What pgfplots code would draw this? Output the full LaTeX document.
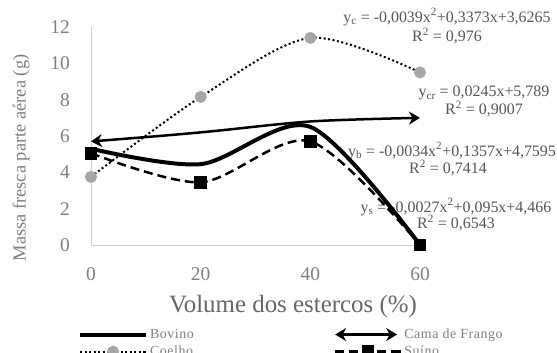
\documentclass[border=0pt]{standalone}
\usepackage{fontspec}
\setmainfont{Liberation Serif}
\newfontfamily\legfont[LetterSpace=4]{Liberation Serif}
\usepackage{pgfplots}
\pgfplotsset{compat=1.18}
\usetikzlibrary{arrows.meta}
\definecolor{tickgray}{HTML}{7F7F7F}
\definecolor{axgray}{HTML}{D0D0D0}
\definecolor{eqgray}{HTML}{555555}
\definecolor{labgray}{HTML}{666666}
\definecolor{mkgray}{HTML}{A6A6A6}
\pgfplotsset{
  legline/.style={legend image code/.code={\draw[##1] (0bp,0bp) -- (66bp,0bp);}},
  legarrow/.style={legend image code/.code={\draw[##1] (0bp,0bp) -- (62bp,0bp);}},
  legmark/.style={legend image code/.code={\draw[mark repeat=2,mark phase=2,##1] plot coordinates {(0bp,0bp) (33bp,0bp) (66bp,0bp)};}},
}
\begin{document}
\begin{tikzpicture}
\useasboundingbox (0,0) rectangle (557bp,353bp);
\begin{scope}[x=1bp,y=-1bp,yshift=353bp,
  eq/.style={font=\fontsize{16}{16}\selectfont, text=eqgray, inner sep=0pt}]
\node[rotate=90, font=\fontsize{18.5}{18.5}\selectfont, text=tickgray] at (21,158) {Massa fresca parte aérea (g)};
\node[font=\fontsize{25}{25}\selectfont, text=labgray] at (293,307) {Volume dos estercos (\%)};
\node[eq] at (447,17) {y\textsubscript{c} = -0,0039x\textsuperscript{2}+0,3373x+3,6265};
\node[eq] at (447,36) {R\textsuperscript{2} = 0,976};
\node[eq] at (484,93) {y\textsubscript{cr} = 0,0245x+5,789};
\node[eq] at (484,109) {R\textsuperscript{2} = 0,9007};
\node[eq] at (452,151) {y\textsubscript{b} = -0,0034x\textsuperscript{2}+0,1357x+4,7595};
\node[eq] at (448,168) {R\textsuperscript{2} = 0,7414};
\node[eq] at (456,207) {y\textsubscript{s} = -0,0027x\textsuperscript{2}+0,095x+4,466};
\node[eq] at (456,223) {R\textsuperscript{2} = 0,6543};
\end{scope}
\begin{axis}[
  at={(91bp,108bp)}, anchor=south west,
  scale only axis, width=329bp, height=218bp,
  xmin=0, xmax=60, ymin=0, ymax=12,
  axis lines=left, axis line style={axgray, line width=1bp, -},
  xtick={0,20,40,60}, ytick={0,2,...,12},
  major tick length=0pt,
  /pgf/number format/assume math mode=true,
  tick label style={font=\fontsize{19.5}{19.5}\selectfont, text=tickgray, inner sep=0pt},
  xticklabel style={anchor=north, yshift=-22bp},
  yticklabel style={anchor=east, xshift=-21bp},
  clip=false,
  legend columns=2,
  legend cell align=left,
  legend style={at={(axis description cs:-0.04,-0.375)}, anchor=north west,
    draw=none, fill=none, font=\legfont\fontsize{14}{14}\selectfont, text=tickgray,
    /tikz/every even column/.append style={column sep=138bp},
    row sep=2bp, inner sep=0pt},
]
\addplot[black, line width=4bp, smooth, tension=0.5, legline]
  coordinates {(0,5.3) (20,4.45) (40,6.5) (60,0)};
\addlegendentry{Bovino}
\addplot[black, line width=2.5bp, smooth, tension=0.5,
  {Stealth[length=11bp,width=13bp]}-{Stealth[length=11bp,width=13bp]}, legarrow]
  coordinates {(0,5.7) (20,6.2) (40,6.8) (60,7.0)};
\addlegendentry{Cama de Frango}
\addplot[black, line width=2bp, dash pattern=on 2bp off 2.5bp, smooth, tension=0.5,
  mark=*, mark size=5bp, mark options={solid, fill=mkgray, draw=mkgray}, legmark]
  coordinates {(0,3.75) (20,8.15) (40,11.4) (60,9.5)};
\addlegendentry{Coelho}
\addplot[black, line width=2.5bp, dash pattern=on 9bp off 5bp, smooth, tension=0.5,
  mark=square*, mark size=5bp, mark options={solid, fill=black}, legmark]
  coordinates {(0,5.05) (20,3.45) (40,5.7) (60,0)};
\addlegendentry{Suíno}
\end{axis}
\end{tikzpicture}
\end{document}
